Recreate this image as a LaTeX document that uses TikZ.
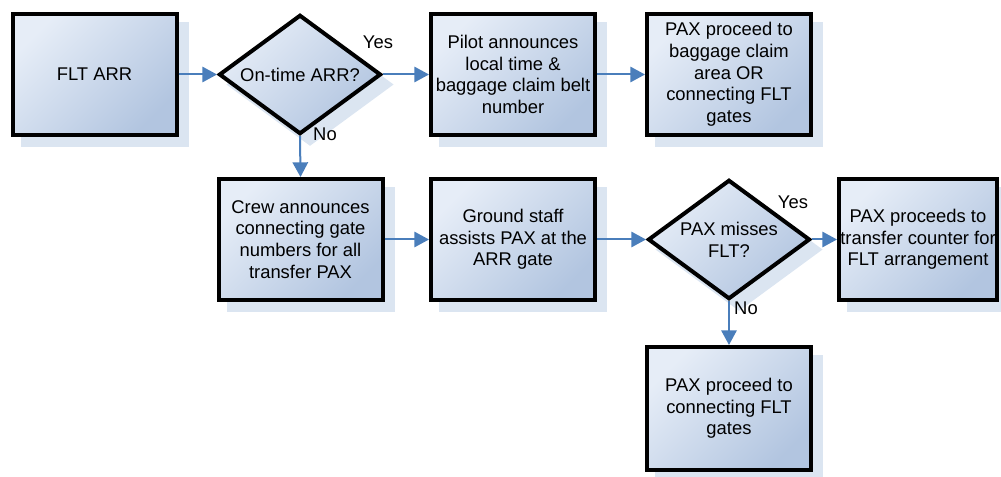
\documentclass[tikz,border=0pt]{standalone}
\usepackage{fontspec}
\setmainfont{Liberation Sans}
\usetikzlibrary{shapes.geometric,shadows,arrows.meta}
\definecolor{boxlight}{HTML}{E6EDF7}
\definecolor{boxdark}{HTML}{B2C5E0}
\definecolor{shadowc}{HTML}{DBE5F1}
\definecolor{arrowc}{HTML}{4A7EBB}
\begin{document}
\begin{tikzpicture}[x=0.75pt,y=-0.75pt,
  font=\fontsize{13.8pt}{16.3pt}\selectfont,
  boxshadow/.style={drop shadow={shadow xshift=7.5pt, shadow yshift=-7.5pt, fill=shadowc, draw=shadowc, opacity=1}},
  stepbox/.style={rectangle, draw=black, line width=3pt, top color=boxlight, bottom color=boxdark, shading angle=45,
    minimum width=123pt, minimum height=90.75pt, inner sep=0pt, align=center, boxshadow},
  decision/.style={diamond, draw=black, line width=3pt, top color=boxlight, bottom color=boxdark, shading angle=45,
    minimum width=121.5pt, minimum height=89.5pt, inner sep=0pt, boxshadow},
  dtext/.style={align=center, inner sep=0pt},
  lbl/.style={inner sep=0pt},
  flow/.style={draw=arrowc, line width=1.5pt, -{Triangle[length=11pt,width=11.5pt]}}
]
\useasboundingbox (0,0) rectangle (1001,477);

\node[stepbox] (flt) at (94.5,74.5) {FLT ARR};
\node[decision] (d1) at (300,74.5) {};
\node[dtext] (d1t) at (300,74.5) {On-time ARR?};
\node[stepbox] (pilot) at (513,74.5) {Pilot announces\\local time \&\\baggage claim belt\\number};
\node[stepbox] (bag) at (729,74.5) {PAX proceed to\\baggage claim\\area OR\\connecting FLT\\gates};

\node[stepbox] (crew) at (300.5,239.5) {Crew announces\\connecting gate\\numbers for all\\transfer PAX};
\node[stepbox] (ground) at (513,239.5) {Ground staff\\assists PAX at the\\ARR gate};
\node[decision] (d2) at (729,239.5) {};
\node[dtext] (d2t) at (729,239.5) {PAX misses\\FLT?};
\node[stepbox, minimum width=118.5pt] (transfer) at (918,239.5) {PAX proceeds to\\transfer counter for\\FLT arrangement};

\node[stepbox, minimum height=92.25pt] (conn) at (729,408.5) {PAX proceed to\\connecting FLT\\gates};

\draw[flow] (flt.east) -- (d1.west);
\draw[flow] (d1.east) -- (pilot.west);
\draw[flow] (pilot.east) -- (bag.west);
\draw[flow] (d1.south) -- (crew.north);
\draw[flow] (crew.east) -- (ground.west);
\draw[flow] (ground.east) -- (d2.west);
\draw[flow] (d2.east) -- (transfer.west);
\draw[flow] (d2.south) -- (conn.north);

\node[lbl] (y1) at (378,42) {Yes};
\node[lbl] (n1) at (325,134) {No};
\node[lbl] (y2) at (793,202) {Yes};
\node[lbl] (n2) at (746,308) {No};
\end{tikzpicture}
\end{document}
